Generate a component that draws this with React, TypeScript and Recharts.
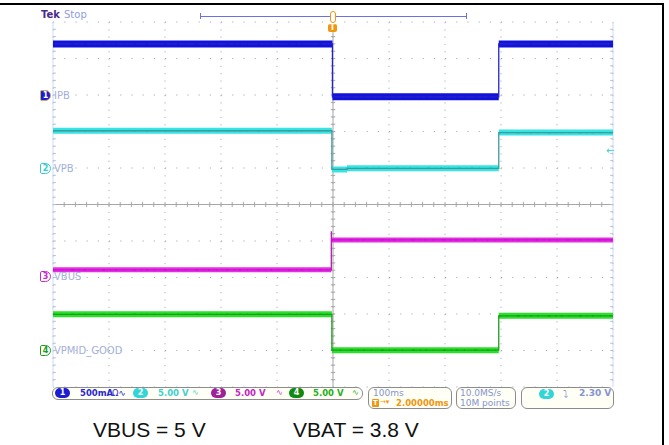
import React from 'react';
import { LineChart, Line, XAxis, YAxis, CartesianGrid, ReferenceLine } from 'recharts';

// time axis in ms (100 ms/div, trigger at centre), vertical axis in divisions
const timeTicks = [-500, -400, -300, -200, -100, 0, 100, 200, 300, 400, 500];
const divTicks = [-5, -4, -3, -2, -1, 0, 1, 2, 3, 4, 5];

// Ch1 IPB (blue)
const ipbTime = [-500, -1, -1, 296, 296, 500];
const ipbLevel = [4.4, 4.4, 2.95, 2.95, 4.4, 4.4];
// Ch2 VPB (cyan)
const vpbTime = [-500, -2, -2, 25, 25, 296, 296, 500];
const vpbLevel = [2.02, 2.02, 0.96, 0.96, 0.99, 0.99, 1.97, 1.97];
// Ch3 VBUS (magenta)
const vbusTime = [-500, -3, -3, -3, 500];
const vbusLevel = [-1.79, -1.79, -0.73, -0.97, -0.97];
// Ch4 VPMID_GOOD (green)
const goodTime = [-500, -2, -2, 296, 296, 500];
const goodLevel = [-3.01, -3.01, -3.99, -3.99, -3.05, -3.05];

const W = 669;
const H = 445;

const toPoints = (ts: number[], vs: number[]) => ts.map((t, i) => ({ t, v: vs[i] }));

// same path, but broken at every vertical edge so only the flat parts get the thick band
const toBand = (ts: number[], vs: number[]) => {
  const out: { t: number; v: number | null }[] = [];
  ts.forEach((t, i) => {
    if (i > 0 && ts[i - 1] === t) out.push({ t, v: null });
    out.push({ t, v: vs[i] });
  });
  return out;
};

const channels = [
  { name: 'ipb', t: ipbTime, v: ipbLevel, band: '#1212dc', fleck: '#00006e', edge: '#2424c8', width: 7 },
  { name: 'vpb', t: vpbTime, v: vpbLevel, band: '#38e3e3', fleck: '#127272', edge: '#3c9c9c', width: 6 },
  { name: 'vbus', t: vbusTime, v: vbusLevel, band: '#ec2aec', fleck: '#8a0e8a', edge: '#b81cb8', width: 5 },
  { name: 'good', t: goodTime, v: goodLevel, band: '#2ae02a', fleck: '#0a620a', edge: '#1c9c1c', width: 6 },
];

const minorT: number[] = [];
for (let t = -480; t < 500; t += 20) minorT.push(t);
const minorV: number[] = [];
for (let v = -4.8; v < 5; v += 0.2) minorV.push(Math.round(v * 10) / 10);

const scopeFont = '"DejaVu Sans", Verdana, sans-serif';

const Txt = ({ x, y, color, size = 10, bold = false, children }: any) => (
  <div
    style={{
      position: 'absolute', left: x, top: y, color, fontSize: size,
      fontWeight: bold ? 'bold' : 'normal', fontFamily: scopeFont,
      whiteSpace: 'nowrap', lineHeight: 1,
    }}
  >
    {children}
  </div>
);

const Marker = ({ x, y, n, color, filled = false }: any) => (
  <div
    style={{
      position: 'absolute', left: x, top: y, width: 9, height: 9,
      border: `1.5px solid ${filled ? '#c8b060' : color}`,
      background: filled ? color : '#fff',
      color: filled ? '#fff' : color,
      borderRadius: '2px 6px 6px 2px', fontSize: 8, fontWeight: 'bold',
      fontFamily: scopeFont, lineHeight: '9px', textAlign: 'center',
    }}
  >
    {n}
  </div>
);

const Pill = ({ x, y, n, color }: any) => (
  <div
    style={{
      position: 'absolute', left: x, top: y, width: 15, height: 10, borderRadius: 5,
      background: color, color: '#fff', fontSize: 8, fontWeight: 'bold',
      fontFamily: scopeFont, lineHeight: '10px', textAlign: 'center',
    }}
  >
    {n}
  </div>
);

const Box = ({ x, y, w, h }: any) => (
  <div
    style={{
      position: 'absolute', left: x, top: y, width: w, height: h,
      border: '1.5px solid #8c8c8c', borderRadius: 6, background: '#fffff6',
      boxSizing: 'border-box',
    }}
  />
);

export default function App() {
  return (
    <div style={{ position: 'absolute', left: 0, top: 0, width: W, height: H, background: '#fff', overflow: 'hidden' }}>
      <LineChart width={W} height={H} margin={{ top: 22, right: 56, bottom: 58, left: 53 }}>
        <XAxis type="number" dataKey="t" domain={[-500, 500]} ticks={timeTicks} hide allowDataOverflow />
        <YAxis type="number" domain={[-5, 5]} ticks={divTicks} hide allowDataOverflow />
        <CartesianGrid horizontal vertical={false} stroke="#a4adbf" strokeDasharray="1.2 10" />
        <CartesianGrid horizontal={false} vertical stroke="#a4adbf" strokeDasharray="1.2 6.1" />
        <ReferenceLine x={-500} stroke="#c9def2" />
        <ReferenceLine x={500} stroke="#c9def2" />
        <ReferenceLine y={0} stroke="#a6a6a6" />
        <ReferenceLine x={0} stroke="#a6a6a6" />
        {minorT.map((t) => (
          <ReferenceLine key={'ct' + t} segment={[{ x: t, y: -0.07 }, { x: t, y: 0.07 }]} stroke="#a6a6a6" />
        ))}
        {minorV.map((v) => (
          <ReferenceLine key={'cv' + v} segment={[{ x: -4, y: v }, { x: 4, y: v }]} stroke="#a6a6a6" />
        ))}
        {minorV.map((v) => (
          <ReferenceLine key={'lv' + v} segment={[{ x: -500, y: v }, { x: -495, y: v }]} stroke="#b4bccc" />
        ))}
        {minorV.map((v) => (
          <ReferenceLine key={'rv' + v} segment={[{ x: 495, y: v }, { x: 500, y: v }]} stroke="#b4bccc" />
        ))}
        {channels.map((c) => (
          <Line
            key={c.name + 'band'}
            data={toBand(c.t, c.v)}
            dataKey="v"
            type="linear"
            stroke={c.band}
            strokeWidth={c.width}
            dot={false}
            activeDot={false}
            connectNulls={false}
            isAnimationActive={false}
          />
        ))}
        {channels.map((c) => (
          <Line
            key={c.name + 'fleck'}
            data={toBand(c.t, c.v)}
            dataKey="v"
            type="linear"
            stroke={c.fleck}
            strokeWidth={1.2}
            strokeOpacity={0.55}
            strokeDasharray="2 6 1 9 3 5 1 4"
            dot={false}
            activeDot={false}
            connectNulls={false}
            isAnimationActive={false}
          />
        ))}
        {channels.map((c) => (
          <Line
            key={c.name + 'edge'}
            data={toPoints(c.t, c.v)}
            dataKey="v"
            type="linear"
            stroke={c.edge}
            strokeWidth={1.3}
            dot={false}
            activeDot={false}
            isAnimationActive={false}
          />
        ))}
      </LineChart>

      {/* frame */}
      <div style={{ position: 'absolute', left: 0, top: 3, width: 662, height: 450, borderTop: '2px solid #000', borderRight: '2px solid #000' }} />

      {/* header */}
      <Txt x={41} y={10} color="#4b2a88" size={10} bold>Tek</Txt>
      <Txt x={64} y={10} color="#8e9ee0" size={10}>Stop</Txt>
      <div style={{ position: 'absolute', left: 200, top: 16, width: 267, height: 1, background: '#6c70e4' }} />
      <div style={{ position: 'absolute', left: 200, top: 13, width: 1, height: 6, background: '#6c70e4' }} />
      <div style={{ position: 'absolute', left: 466, top: 13, width: 1, height: 6, background: '#6c70e4' }} />
      <div style={{ position: 'absolute', left: 330, top: 11, width: 4, height: 10, border: '1.5px solid #f0960f', borderRadius: 3, background: '#fff' }} />
      <div style={{ position: 'absolute', left: 328, top: 24, width: 9, height: 8, background: '#f0960f', borderRadius: 2, color: '#fff', fontSize: 8, fontWeight: 'bold', fontFamily: scopeFont, lineHeight: '8px', textAlign: 'center' }}>T</div>

      {/* channel markers */}
      <Marker x={40} y={90} n="1" color="#1c1cd2" filled />
      <Txt x={54} y={91} color="#a4b0d8" size={10}>IPB</Txt>
      <Marker x={40} y={163} n="2" color="#33cccc" />
      <Txt x={54} y={164} color="#a4b0d8" size={10}>VPB</Txt>
      <Marker x={40} y={271} n="3" color="#c828c8" />
      <Txt x={54} y={272} color="#a4b0d8" size={10}>VBUS</Txt>
      <Marker x={40} y={345} n="4" color="#1e9a1e" />
      <Txt x={54} y={346} color="#a4b0d8" size={10}>VPMID_GOOD</Txt>
      <Txt x={606} y={146} color="#33d0d0" size={10}>←</Txt>

      {/* status bar */}
      <Box x={52} y={387} w={311} h={13} />
      <Pill x={55} y={388} n="1" color="#1c1cd2" />
      <Txt x={80} y={389} color="#2a2ad0" size={8.5} bold>500mA</Txt>
      <Txt x={112} y={389} color="#2a2ad0" size={8.5}>Ω∿</Txt>
      <Pill x={133} y={388} n="2" color="#33d6d6" />
      <Txt x={158} y={389} color="#40d0d0" size={8.5} bold>5.00 V</Txt>
      <Txt x={192} y={389} color="#40d0d0" size={8}>∿</Txt>
      <Pill x={211} y={388} n="3" color="#a0209c" />
      <Txt x={235} y={389} color="#c424c4" size={8.5} bold>5.00 V</Txt>
      <Txt x={276} y={389} color="#c424c4" size={8}>∿</Txt>
      <Pill x={289} y={388} n="4" color="#118a11" />
      <Txt x={313} y={389} color="#22b022" size={8.5} bold>5.00 V</Txt>
      <Txt x={352} y={389} color="#22b022" size={8}>∿</Txt>

      <Box x={368} y={387} w={84} h={22} />
      <Txt x={373} y={389} color="#8494d2" size={9}>100ms</Txt>
      <div style={{ position: 'absolute', left: 372, top: 399, width: 7, height: 8, background: '#f0960f', borderRadius: 1, color: '#fff', fontSize: 7, fontWeight: 'bold', fontFamily: scopeFont, lineHeight: '8px', textAlign: 'center' }}>T</div>
      <Txt x={380} y={399} color="#f0960f" size={7}>→▾</Txt>
      <Txt x={396} y={399} color="#f0960f" size={8.5} bold>2.00000ms</Txt>

      <Box x={456} y={387} w={60} h={22} />
      <Txt x={460} y={389} color="#8494d2" size={9}>10.0MS/s</Txt>
      <Txt x={460} y={399} color="#8494d2" size={9}>10M points</Txt>

      <Box x={521} y={387} w={93} h={22} />
      <Pill x={539} y={389} n="2" color="#33d6d6" />
      <Txt x={563} y={389} color="#8494d2" size={9.5}>⤵</Txt>
      <Txt x={579} y={389} color="#8494d2" size={9} bold>2.30 V</Txt>

      {/* caption */}
      <div style={{ position: 'absolute', left: 93, top: 418, fontFamily: '"Liberation Sans", Arial, sans-serif', fontSize: 21, color: '#111', whiteSpace: 'nowrap' }}>VBUS = 5 V</div>
      <div style={{ position: 'absolute', left: 293, top: 418, fontFamily: '"Liberation Sans", Arial, sans-serif', fontSize: 21, color: '#111', whiteSpace: 'nowrap' }}>VBAT = 3.8 V</div>
    </div>
  );
}
